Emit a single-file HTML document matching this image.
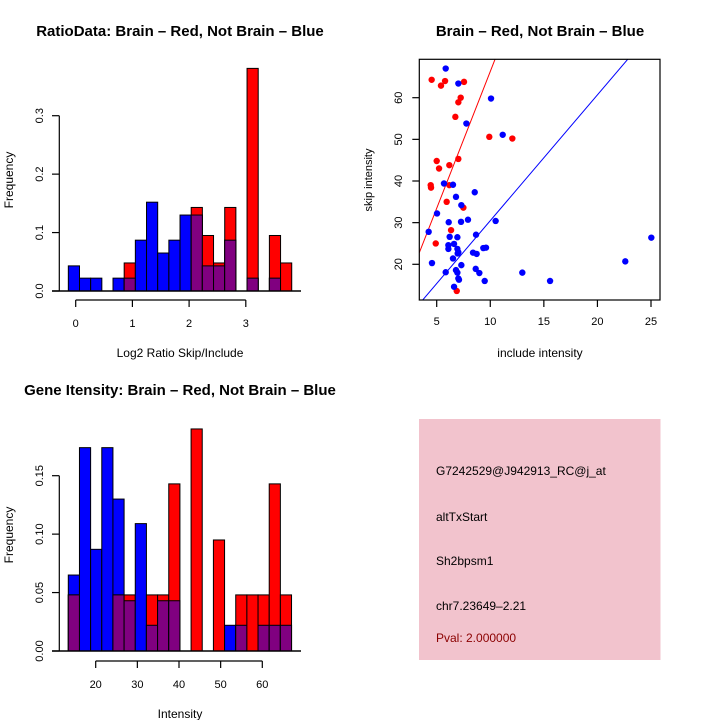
<!DOCTYPE html>
<html><head><meta charset="utf-8"><style>
html,body{margin:0;padding:0;background:#fff;}
svg{display:block;font-family:"Liberation Sans",sans-serif;}
</style></head><body>
<svg id="c" width="720" height="720" xmlns="http://www.w3.org/2000/svg"></svg>
<script>
// ---- Chart 1: log2 ratio histogram ----
const ratioBlue = [0.043,0.022,0.022,0,0.022,0.022,0.087,0.152,0.065,0.087,0.130,0.130,0.043,0.043,0.087,0,0.022,0,0.022,0];
const ratioRed  = [0,0,0,0,0,0.048,0,0,0,0,0,0.143,0.095,0.048,0.143,0,0.381,0,0.095,0.048];
const ratioXTicks = [0,1,2,3];
const ratioYTicks = ["0.0","0.1","0.2","0.3"];
// ---- Chart 3: intensity histogram ----
const intBlue = [0.065,0.174,0.087,0.174,0.130,0.043,0.109,0.022,0.043,0.043,0,0,0,0,0.022,0.022,0,0.022,0.022,0.022];
const intRed  = [0.048,0,0,0,0.048,0.048,0,0.048,0.048,0.143,0,0.190,0,0.095,0,0.048,0.048,0.048,0.143,0.048];
const intXTicks = [20,30,40,50,60];
const intYTicks = ["0.00","0.05","0.10","0.15"];
// ---- Chart 2: scatter ----
const redInclude = [4.53,5.4,5.78,7.55,7.24,7.02,6.74,9.91,12.06,5.0,5.22,6.18,7.02,4.44,4.47,6.18,5.93,7.49,6.34,4.91,6.87];
const redSkip    = [64.3,62.9,64.0,63.8,60.0,58.9,55.4,50.6,50.2,44.8,43.0,43.8,45.3,39.0,38.4,39.0,35.0,33.6,28.2,25.0,13.6];
const blueInclude = [5.84,7.02,10.07,7.77,11.16,5.68,6.52,8.55,6.8,7.3,5.03,6.12,7.27,7.92,10.5,4.25,6.21,6.93,8.67,6.09,6.62,6.09,6.93,7.02,6.96,8.39,8.73,9.35,9.6,6.52,4.56,7.3,5.84,6.8,6.93,8.64,8.98,12.99,7.02,7.08,9.48,15.58,6.62,22.6,25.03];
const blueSkip    = [67.0,63.4,59.8,53.8,51.1,39.4,39.1,37.3,36.2,34.2,32.2,30.1,30.2,30.7,30.4,27.8,26.6,26.5,27.1,24.6,24.9,23.7,23.7,22.9,22.6,22.8,22.5,23.9,24.0,21.4,20.3,19.8,18.1,18.6,18.0,18.9,17.9,18.0,16.6,16.3,16.0,16.0,14.6,20.7,26.4];
const scatterXTicks = [5,10,15,20,25];
const scatterYTicks = [20,30,40,50,60];
const redFit = [0.6, 6.57];
const blueFit = [0.28, 3.02];

const svg = document.getElementById('c');
const NS = "http://www.w3.org/2000/svg";
function mk(tag, attrs, parent){const e=document.createElementNS(NS,tag);for(const k in attrs)e.setAttribute(k,attrs[k]);(parent||svg).appendChild(e);return e;}
function txt(s, attrs, parent){const e=mk('text',attrs,parent);e.textContent=s;return e;}

function hist(g, blue, red, cfg){
  const xs = v => cfg.x0 + (v - cfg.v0) * cfg.kx;
  const ys = v => cfg.base - v * cfg.ky;
  const bw = cfg.binW * cfg.kx;
  for(let i=0;i<blue.length;i++){
    const x = xs(cfg.binStart + i*cfg.binW);
    const b = blue[i], r = red[i], m = Math.min(b,r);
    if(b>0){const e=mk('rect',{x:x,y:ys(b),width:bw,height:b*cfg.ky,fill:'#0000ff',stroke:'#000','stroke-width':1},g);
      
      }
    if(r>0){const e=mk('rect',{x:x,y:ys(r),width:bw,height:r*cfg.ky,fill:'#ff0000',stroke:'#000','stroke-width':1},g);
      
      }
    if(m>0){const e=mk('rect',{x:x,y:ys(m),width:bw,height:m*cfg.ky,fill:'#800080',stroke:'#000','stroke-width':1},g);
      
      }
  }
  mk('line',{x1:52,y1:cfg.base,x2:301,y2:cfg.base,stroke:'#000','stroke-width':1.5},g);
  const yTop = ys(parseFloat(cfg.yTicks[cfg.yTicks.length-1]));
  mk('line',{x1:59.3,y1:cfg.base,x2:59.3,y2:yTop,stroke:'#000','stroke-width':1.2},g);
  cfg.yTicks.forEach(t=>{const y=ys(parseFloat(t));
    mk('line',{x1:52,y1:y,x2:59.3,y2:y,stroke:'#000','stroke-width':1.2},g);
    const e=txt(t,{x:0,y:0,transform:`translate(43,${y}) rotate(-90)`,'text-anchor':'middle','font-size':11},g);
    
    });
  const xa = cfg.base + cfg.xAxisOff;
  mk('line',{x1:xs(cfg.xTicks[0]),y1:xa,x2:xs(cfg.xTicks[cfg.xTicks.length-1]),y2:xa,stroke:'#000','stroke-width':1.2},g);
  cfg.xTicks.forEach(t=>{const x=xs(t);
    mk('line',{x1:x,y1:xa,x2:x,y2:xa+7,stroke:'#000','stroke-width':1.2},g);
    const e=txt(String(t),{x:x,y:xa+27,'text-anchor':'middle','font-size':11},g);
    
    });
}

// Chart 1
const g1 = mk('g',{});
txt('RatioData: Brain \u2013 Red, Not Brain \u2013 Blue',{x:180,y:36,'text-anchor':'middle','font-size':15,'font-weight':'bold',},g1);
hist(g1, ratioBlue, ratioRed, {x0:75.7,v0:0,kx:56.7,base:291,ky:584.3,binStart:-0.13,binW:0.197,xTicks:ratioXTicks,yTicks:ratioYTicks,xAxisOff:9});
txt('Log2 Ratio Skip/Include',{x:180,y:357,'text-anchor':'middle','font-size':12,},g1);
txt('Frequency',{x:0,y:0,transform:'translate(13,180) rotate(-90)','text-anchor':'middle','font-size':12,},g1);

// Chart 3
const g3 = mk('g',{});
txt('Gene Itensity: Brain \u2013 Red, Not Brain \u2013 Blue',{x:180,y:395,'text-anchor':'middle','font-size':15,'font-weight':'bold',},g3);
hist(g3, intBlue, intRed, {x0:95.7,v0:20,kx:4.165,base:651,ky:1168.7,binStart:13.42,binW:2.68,xTicks:intXTicks,yTicks:intYTicks,xAxisOff:10});
txt('Intensity',{x:180,y:718,'text-anchor':'middle','font-size':12,},g3);
txt('Frequency',{x:0,y:0,transform:'translate(13,535) rotate(-90)','text-anchor':'middle','font-size':12,},g3);

// Chart 2 scatter
const g2 = mk('g',{});
const L=419.3,R=660,T=59.3,B=300;
const sx = v => 436.7 + (v-5)*10.715;
const sy = v => 264.3 - (v-20)*4.165;
const xMin=(L-436.7)/10.715+5, xMax=(R-436.7)/10.715+5;
txt('Brain \u2013 Red, Not Brain \u2013 Blue',{x:540,y:36,'text-anchor':'middle','font-size':15,'font-weight':'bold',},g2);
const clip = mk('clipPath',{id:'clp'},g2); mk('rect',{x:L,y:T,width:R-L,height:B-T},clip);
const pg = mk('g',{'clip-path':'url(#clp)'},g2);
function fitLine(f,col,name){const y1=f[0]+f[1]*xMin,y2=f[0]+f[1]*xMax;
  const e=mk('line',{x1:sx(xMin),y1:sy(y1),x2:sx(xMax),y2:sy(y2),stroke:col,'stroke-width':1},pg);
  
  }
fitLine(redFit,'#ff0000','red-fit-line');
fitLine(blueFit,'#0000ff','blue-fit-line');
redInclude.forEach((v,i)=>{const e=mk('circle',{cx:sx(v),cy:sy(redSkip[i]),r:3.2,fill:'#ff0000'},pg);
  
  });
blueInclude.forEach((v,i)=>{const e=mk('circle',{cx:sx(v),cy:sy(blueSkip[i]),r:3.2,fill:'#0000ff'},pg);
  
  });
mk('rect',{x:L,y:T,width:R-L,height:B-T,fill:'none',stroke:'#000','stroke-width':1.2,},g2);
scatterXTicks.forEach(t=>{const x=sx(t);mk('line',{x1:x,y1:B,x2:x,y2:B+7,stroke:'#000','stroke-width':1.2},g2);
  const e=txt(String(t),{x:x,y:B+25,'text-anchor':'middle','font-size':11},g2);
  
  });
scatterYTicks.forEach(t=>{const y=sy(t);mk('line',{x1:L-7,y1:y,x2:L,y2:y,stroke:'#000','stroke-width':1.2},g2);
  const e=txt(String(t),{x:0,y:0,transform:`translate(402,${y}) rotate(-90)`,'text-anchor':'middle','font-size':11},g2);
  
  });
txt('include intensity',{x:540,y:357,'text-anchor':'middle','font-size':12,},g2);
txt('skip intensity',{x:0,y:0,transform:'translate(372,180) rotate(-90)','text-anchor':'middle','font-size':11,},g2);

// Info box
const g4 = mk('g',{});
mk('rect',{x:419,y:419,width:241.5,height:241,fill:'#f2c3cd'},g4);
[['G7242529@J942913_RC@j_at',475,'#000','probe-id'],['altTxStart',521,'#000','event-type'],['Sh2bpsm1',565,'#000','gene-name'],['chr7.23649\u20132.21',610,'#000','location'],['Pval: 2.000000',642,'#8b0000','p-value']].forEach(r=>{
  txt(r[0],{x:436,y:r[1],'font-size':12,fill:r[2],},g4);});
</script>
</body></html>
